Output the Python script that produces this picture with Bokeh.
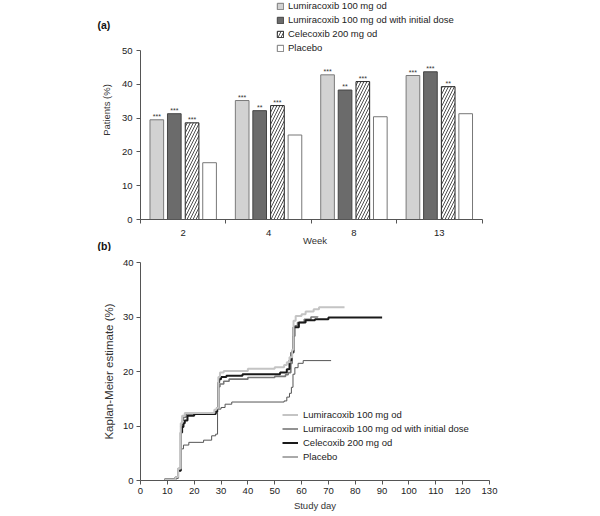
from bokeh.plotting import figure
from bokeh.models import (FixedTicker, Label, Legend, LegendItem, ColumnDataSource, Range1d)
from bokeh.layouts import column
from bokeh.embed import file_html
from bokeh.resources import INLINE
from bokeh.core.properties import value

FONT = "Liberation Sans"
TXT = "#222222"
AX = "#555555"

# ---------------- panel (a) data ----------------
weeks = ["2", "4", "8", "13"]
series_names = ["Lumiracoxib 100 mg od", "Lumiracoxib 100 mg od with initial dose",
                "Celecoxib 200 mg od", "Placebo"]
lumi = [29.5, 35.2, 42.8, 42.6]
lumi_init = [31.3, 32.2, 38.3, 43.7]
cele = [28.6, 33.7, 40.8, 39.3]
placebo = [16.8, 25.0, 30.4, 31.3]
sig_lumi = ["***", "***", "***", "***"]
sig_lumi_init = ["***", "**", "**", "***"]
sig_cele = ["***", "***", "***", "**"]
sig_placebo = ["", "", "", ""]
y_ticks_a = [0, 10, 20, 30, 40, 50]

# ---------------- panel (b) data ----------------
km_lumi_day = [9, 13, 14, 15, 15.5, 16.5, 27.5, 28.3, 29, 29.6, 31, 40, 50, 53.5, 54.5,
               55.5, 56.5, 57, 57.8, 60, 61.5, 64.5, 66.5, 76]
km_lumi_pct = [0.2, 0.6, 2.2, 10.5, 11.9, 12.4, 13.0, 13.3, 19.0, 19.8, 20.1, 20.5, 20.8, 21.2, 21.7,
               22.6, 24.0, 29.3, 30.2, 30.5, 31.0, 31.4, 31.8, 31.8]
km_init_day = [9, 13, 14, 15, 15.5, 16, 17, 28, 28.7, 29, 29.6, 31, 33, 40, 50, 54, 55,
               56, 56.5, 57, 57.5, 58.5, 61, 63.5, 66]
km_init_pct = [0.2, 0.6, 2.2, 10.0, 11.0, 11.6, 12.2, 12.6, 13.2, 17.2, 17.7, 18.2, 18.6, 18.9, 19.1, 19.4, 19.8,
               21.5, 23.8, 26.5, 28.4, 29.0, 29.6, 30.0, 30.1]
km_cele_day = [9, 13, 14, 15, 15.5, 16, 16.5, 17.5, 20, 28, 28.5, 29, 29.3, 30, 32, 38, 52,
               54.5, 55.5, 56.2, 57, 59, 61.5, 65, 70, 90]
km_cele_pct = [0.2, 0.5, 1.8, 8.8, 9.8, 10.5, 11.0, 11.9, 12.2, 12.6, 13.3, 18.0, 18.6, 19.0, 19.2, 19.5, 19.8,
               20.4, 22.0, 23.5, 28.1, 29.0, 29.4, 29.6, 29.9, 29.9]
km_plac_day = [9, 13, 14, 15, 16, 18, 23.5, 26.5, 28, 28.7, 30, 31.5, 34, 53.5, 54.5, 55.5,
               56.2, 56.8, 57.5, 58.7, 60.6, 71]
km_plac_pct = [0.2, 0.5, 1.8, 5.8, 6.5, 7.0, 7.4, 8.2, 8.5, 13.1, 13.4, 14.0, 14.4, 14.6, 15.3, 16.0,
               17.1, 19.5, 20.7, 21.5, 22.0, 22.0]
x_ticks_b = list(range(0, 131, 10))
y_ticks_b = [0, 10, 20, 30, 40]

bar_styles = [
    dict(fill_color="#d2d2d2", line_color="#7a7a7a"),
    dict(fill_color="#6b6b6b", line_color="#444444"),
    dict(fill_color="white", line_color="#222222", hatch_pattern="/", hatch_color="#222222",
         hatch_scale=6, hatch_weight=0.8),
    dict(fill_color="white", line_color="#777777"),
]

# both panels share left/right borders in the column (frames are aligned)
BORDER_L, BORDER_R = 140, 111
FRAME_W = 600 - BORDER_L - BORDER_R          # 349 px
BAR_AXIS_W = 341.5                           # px length of panel (a) category axis
x_end_a = len(weeks) * FRAME_W / BAR_AXIS_W
# panel (a) frame runs from the canvas top (legend area) down to the axis;
# the value axis itself covers 0..50 over its lower 169 px
A_FRAME_H, A_AXIS_H = 219, 169
y_end_a = 50 * A_FRAME_H / A_AXIS_H


def style_axes(p):
    for ax in (p.xaxis[0], p.yaxis[0]):
        ax.axis_line_color = AX
        ax.major_tick_line_color = AX
        ax.minor_tick_line_color = AX
        ax.major_label_text_font = FONT
        ax.major_label_text_font_size = "9.5px"
        ax.major_label_text_color = TXT
        ax.axis_label_text_font = FONT
        ax.axis_label_text_font_style = "normal"
        ax.axis_label_text_color = "#333333"
        ax.major_tick_in = 0
        ax.minor_tick_in = 0
        ax.minor_tick_out = 0
    p.grid.visible = False
    p.outline_line_color = None
    p.background_fill_color = "white"
    p.border_fill_color = "white"
    p.title.visible = False


# ================= panel (a) =================
p1 = figure(width=600, height=251, x_range=Range1d(0, x_end_a), y_range=Range1d(0, y_end_a),
            output_backend="svg", toolbar_location=None,
            min_border_left=BORDER_L, min_border_right=BORDER_R, min_border_top=0, min_border_bottom=32)
style_axes(p1)

offsets = [-0.309, -0.104, 0.104, 0.309]
bar_sets = [lumi, lumi_init, cele, placebo]
sig_sets = [sig_lumi, sig_lumi_init, sig_cele, sig_placebo]
bar_items = []
for k, (vals, sig, st) in enumerate(zip(bar_sets, sig_sets, bar_styles)):
    xs = [j + 0.5 + offsets[k] for j in range(len(weeks))]
    src = ColumnDataSource(dict(x=xs, top=vals, sig=sig))
    r = p1.vbar(x="x", top="top", width=0.16, line_width=1, source=src, **st)
    p1.text(x="x", y="top", text="sig", source=src, text_align="center", text_baseline="bottom",
            text_font=value(FONT), text_font_size="7px", text_color="#333333")
    bar_items.append(LegendItem(label=series_names[k], renderers=[r]))

xa = p1.xaxis[0]
xa.bounds = (0, len(weeks))
xa.ticker = FixedTicker(ticks=[j + 0.5 for j in range(len(weeks))],
                        minor_ticks=list(range(len(weeks) + 1)))
xa.major_label_overrides = {j + 0.5: w for j, w in enumerate(weeks)}
xa.major_tick_out = 0
xa.minor_tick_out = 4
xa.major_label_standoff = 6
xa.axis_label = "Week"
xa.axis_label_text_font_size = "9.5px"
xa.axis_label_standoff = -4

ya = p1.yaxis[0]
ya.bounds = (0, 50)
ya.ticker = FixedTicker(ticks=y_ticks_a)
ya.major_tick_out = 4
ya.major_label_standoff = 4
ya.axis_label = "Patients (%)"
ya.axis_label_text_font_size = "9.5px"
ya.axis_label_standoff = 7

leg1 = Legend(items=bar_items, location=(136, 166), orientation="vertical", padding=0, margin=0,
              spacing=3, label_height=11, glyph_height=8, glyph_width=8, label_standoff=4,
              border_line_color=None, background_fill_alpha=0,
              label_text_font=FONT, label_text_font_size="9.5px", label_text_color=TXT)
p1.add_layout(leg1)

for txt, ly in (("(a)", 24), ("(b)", 245)):
    p1.add_layout(Label(x=97, y=ly, x_units="canvas", y_units="canvas", text=txt,
                        text_font=FONT, text_font_size="10.5px", text_font_style="bold",
                        text_color="#111111", text_baseline="middle"), "left")

# ================= panel (b) =================
p2 = figure(width=600, height=265, x_range=Range1d(0, 130), y_range=Range1d(0, 40),
            output_backend="svg", toolbar_location=None,
            min_border_left=BORDER_L, min_border_right=BORDER_R, min_border_top=11, min_border_bottom=36)
style_axes(p2)

km_sets = [
    (km_plac_day, km_plac_pct, "#555555", 1.0),
    (km_init_day, km_init_pct, "#777777", 1.6),
    (km_cele_day, km_cele_pct, "#1a1a1a", 2.0),
    (km_lumi_day, km_lumi_pct, "#c4c4c4", 2.0),
]
km_renderers = []
for d, v, c, w in km_sets:
    km_renderers.append(p2.step(x=d, y=v, mode="after", line_color=c, line_width=w))
plac_r, init_r, cele_r, lumi_r = km_renderers

km_items = [LegendItem(label=series_names[0], renderers=[lumi_r]),
            LegendItem(label=series_names[1], renderers=[init_r]),
            LegendItem(label=series_names[2], renderers=[cele_r]),
            LegendItem(label=series_names[3], renderers=[plac_r])]
leg2 = Legend(items=km_items, location=(142, 18), orientation="vertical", padding=0, margin=0,
              spacing=3, label_height=11, glyph_height=11, glyph_width=16, label_standoff=5,
              border_line_color=None, background_fill_alpha=0,
              label_text_font=FONT, label_text_font_size="9.5px", label_text_color=TXT)
p2.add_layout(leg2)

xb = p2.xaxis[0]
xb.ticker = FixedTicker(ticks=x_ticks_b)
xb.major_tick_out = 4
xb.major_label_standoff = 3
xb.axis_label = "Study day"
xb.axis_label_text_font_size = "9.5px"
xb.axis_label_standoff = 3

yb = p2.yaxis[0]
yb.ticker = FixedTicker(ticks=y_ticks_b)
yb.major_tick_out = 4
yb.major_label_standoff = 3
yb.axis_label = "Kaplan-Meier estimate (%)"
yb.axis_label_text_font_size = "11.5px"
yb.axis_label_standoff = 5

layout = column(p1, p2, spacing=0)
open("out.html", "w").write(file_html(layout, INLINE))
